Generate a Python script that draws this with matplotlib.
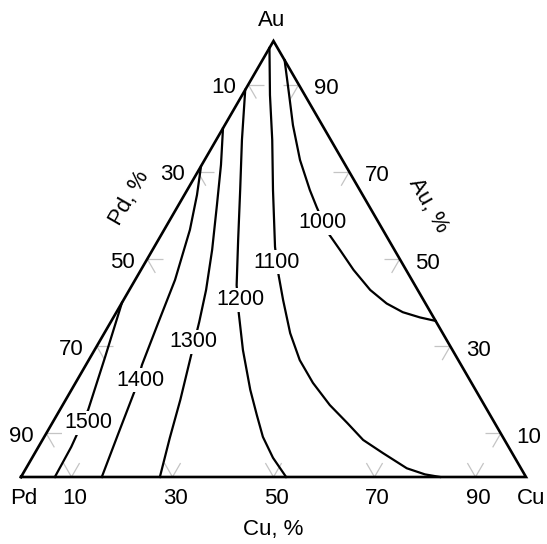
import numpy as np
import matplotlib
matplotlib.use("Agg")
import matplotlib.pyplot as plt

plt.rcParams['font.family'] = ['Liberation Sans', 'DejaVu Sans']

# ---------------- data: isotherms as compositions (Cu %, Au %); Pd = 100 - Cu - Au
iso_temps = [1500, 1400, 1300, 1200, 1100, 1000]

cu_1500 = [0.0, 2.9, 5.6, 6.5, 6.7]
au_1500 = [40.0, 27.5, 15.4, 6.9, 0.0]

cu_1400 = [0.0, 2.5, 5.1, 7.9, 9.5, 11.1, 12.6, 14.3, 16.0]
au_1400 = [71.3, 64.7, 56.7, 45.2, 35.3, 25.7, 20.0, 9.9, 0.0]

cu_1300 = [0.0, 3.8, 7.6, 11.8, 15.2, 17.5, 19.5, 22.7, 25.0, 27.5]
au_1300 = [80.0, 71.6, 62.4, 52.1, 42.9, 35.6, 28.7, 17.7, 8.9, 0.0]

cu_1200 = [0.0, 5.1, 10.5, 15.8, 20.7, 24.2, 29.4, 35.4, 39.6, 43.3, 47.7, 52.5]
au_1200 = [88.8, 77.3, 65.8, 54.4, 44.0, 37.8, 29.1, 20.0, 14.2, 9.2, 4.4, 0.0]

cu_1100 = [0.0, 5.5, 11.1, 17.0, 23.9, 27.4, 31.6, 36.8, 41.8, 47.0, 52.9,
           58.4, 63.5, 68.9, 75.4, 79.7, 83.0]
au_1100 = [98.4, 87.6, 77.3, 65.8, 52.8, 47.0, 40.6, 33.0, 26.8, 21.6, 16.5,
           12.4, 8.5, 5.5, 2.0, 0.6, 0.0]

cu_1000 = [4.4, 9.3, 13.5, 18.9, 24.3, 27.6, 32.8, 37.1, 42.1, 47.7, 52.5,
           56.7, 60.7, 64.2]
au_1000 = [95.6, 87.6, 80.7, 72.7, 65.8, 61.9, 56.0, 52.1, 47.5, 42.9, 39.8,
           37.8, 36.6, 35.8]

tick_values = [10, 30, 50, 70, 90]
corner_names = ["Pd", "Cu", "Au"]
axis_titles = ["Cu, %", "Pd, %", "Au, %"]

# ---------------- layout (label anchor compositions on each isotherm)
label_cu = [7.1, 12.5, 18.6, 23.1, 26.0, 30.5]
label_au = [12.4, 22.2, 31.0, 40.6, 49.3, 58.3]

H = np.sqrt(3) / 2


def tern(cu, au):
    cu = np.asarray(cu, float)
    au = np.asarray(au, float)
    return cu + au / 2.0, au * H


W_PX, H_PX = 547, 544
fig = plt.figure(figsize=(W_PX / 100, H_PX / 100), dpi=100)
ax = fig.add_axes([0, 0, 1, 1])
# triangle: Pd corner at px (21,477), Cu at (526,477), Au at (273,41)
sx = 505 / 100.0
sy = 436 / (100 * H)
ax.set_xlim(-21 / sx, (W_PX - 21) / sx)
ax.set_ylim(-(H_PX - 477) / sy, 477 / sy)
ax.axis('off')


def px(x, y):
    return (x - 21) / sx, (477 - y) / sy


# grid ticks (light grey)
L = 3.2
tick_col = '#c4c4c4'
for v in tick_values:
    segs = [
        # bottom edge (Cu = v)
        ((v, 0), (v, L)), ((v, 0), (v - L, L)),
        # left edge (Pd = v)
        ((0, 100 - v), (L, 100 - v)), ((0, 100 - v), (L, 100 - v - L)),
        # right edge (Au = v)
        ((100 - v, v), (100 - v - L, v)), ((100 - v, v), (100 - v, v - L)),
    ]
    for (c0, a0), (c1, a1) in segs:
        x, y = tern([c0, c1], [a0, a1])
        ax.plot(x, y, color=tick_col, lw=0.9, zorder=1, solid_capstyle='butt')

# triangle edges
tx, ty = tern([0, 100, 0, 0], [0, 0, 100, 0])
ax.plot(tx, ty, color='black', lw=1.9, zorder=3, solid_joinstyle='miter')

# isotherms
curves = [(cu_1500, au_1500), (cu_1400, au_1400), (cu_1300, au_1300),
          (cu_1200, au_1200), (cu_1100, au_1100), (cu_1000, au_1000)]
for (cu, au) in curves:
    x, y = tern(cu, au)
    ax.plot(x, y, color='black', lw=1.6, zorder=2, solid_joinstyle='round')

for t, lc, la in zip(iso_temps, label_cu, label_au):
    x, y = tern(lc, la)
    ax.text(x, y, str(t), fontsize=15.5, ha='center', va='center', zorder=4,
            bbox=dict(facecolor='white', edgecolor='none', pad=1.2))

# tick labels
fs = 16
for v in tick_values:
    x, y = tern(v, 0)
    ax.annotate(str(v), (x, y), xytext=(2, -15.5), textcoords='offset points',
                ha='center', va='center', fontsize=fs)
    x, y = tern(0, 100 - v)
    ax.annotate(str(v), (x, y), xytext=(-18, -2.2), textcoords='offset points',
                ha='center', va='center', fontsize=fs)
    x, y = tern(100 - v, v)
    ax.annotate(str(v), (x, y), xytext=(20, -2.9), textcoords='offset points',
                ha='center', va='center', fontsize=fs)

# corner names
ax.text(*px(24, 498), corner_names[0], fontsize=fs, ha='center', va='center')
ax.text(*px(531, 498), corner_names[1], fontsize=fs, ha='center', va='center')
ax.text(*px(272, 21), corner_names[2], fontsize=fs, ha='center', va='center')

# axis titles
ax.text(*px(273, 529), axis_titles[0], fontsize=fs, ha='center', va='center')
ax.text(*px(129, 198), axis_titles[1], fontsize=fs, ha='center', va='center',
        rotation=60, rotation_mode='anchor')
ax.text(*px(428, 205), axis_titles[2], fontsize=fs, ha='center', va='center',
        rotation=-60, rotation_mode='anchor')

fig.savefig('out.png', dpi=100, facecolor='white')
